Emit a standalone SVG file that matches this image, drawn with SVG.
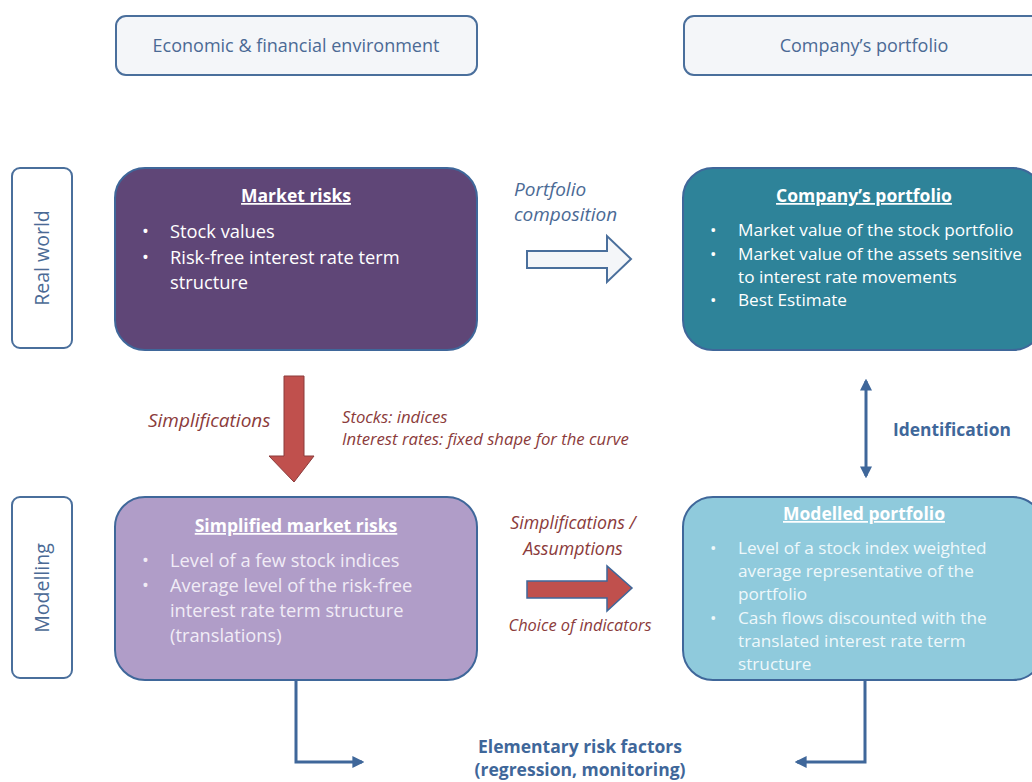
<svg xmlns="http://www.w3.org/2000/svg" width="1032" height="782" viewBox="0 0 1032 782">
<defs>
<style>
.hdr{fill:#f4f6f9;stroke:#4a6f9c;stroke-width:2}
.side{fill:#ffffff;stroke:#4a6f9c;stroke-width:2}
.box{stroke:#3f679a;stroke-width:2}
.t{font-family:"Open Sans","Liberation Sans",sans-serif}
.hdrt{font-size:18px;fill:#4b6a95;text-anchor:middle}
.sidet{font-size:19.5px;fill:#4b6a95;text-anchor:middle}
.title{font-size:17.5px;font-weight:bold;text-decoration:underline;text-anchor:middle}
.bodyL{font-size:18.3px}
.bodyR{font-size:17.2px}
.red{fill:#8b3b3b;font-style:italic}
.blu{fill:#3f679a;font-weight:bold}
.conn{fill:none;stroke:#3f679a;stroke-width:3}
</style>
<marker id="ah" viewBox="0 0 10 10" refX="8" refY="5" markerWidth="4" markerHeight="4" orient="auto-start-reverse">
<path d="M0,0 L10,5 L0,10 z" fill="#3f679a"/>
</marker>
</defs>
<rect width="1032" height="782" fill="#ffffff"/>

<g id="hdr-econ">
<rect class="hdr" x="116" y="16" width="361" height="59" rx="10"/>
<text class="t hdrt" x="296" y="52">Economic &amp; financial environment</text>
</g>
<g id="hdr-company">
<rect class="hdr" x="684" y="16" width="360" height="59" rx="10"/>
<text class="t hdrt" x="864" y="52">Company’s portfolio</text>
</g>

<g id="side-real">
<rect class="side" x="12" y="168" width="60" height="180" rx="8"/>
<text class="t sidet" transform="translate(49,258) rotate(-90)">Real world</text>
</g>
<g id="side-model">
<rect class="side" x="12" y="497" width="60" height="181" rx="8"/>
<text class="t sidet" transform="translate(49,588) rotate(-90)">Modelling</text>
</g>

<g id="market-risks">
<rect class="box" x="115" y="168" width="362" height="182" rx="30" fill="#5f4677"/>
<text class="t title" x="296" y="202" fill="#ffffff">Market risks</text>
<g class="t bodyL" fill="#ffffff">
<text x="142" y="238">•</text><text x="170" y="238">Stock values</text>
<text x="142" y="264">•</text><text x="170" y="264">Risk-free interest rate term</text>
<text x="170" y="289">structure</text>
</g>
</g>

<g id="company-portfolio">
<rect class="box" x="683" y="168" width="360" height="182" rx="30" fill="#2e8399"/>
<text class="t title" x="864" y="202" fill="#ffffff">Company’s portfolio</text>
<g class="t bodyR" fill="#ffffff">
<text x="710" y="236">•</text><text x="738" y="236">Market value of the stock portfolio</text>
<text x="710" y="260">•</text><text x="738" y="260">Market value of the assets sensitive</text>
<text x="738" y="283">to interest rate movements</text>
<text x="710" y="306">•</text><text x="738" y="306">Best Estimate</text>
</g>
</g>

<g id="simplified-market-risks">
<rect class="box" x="115" y="497" width="362" height="183" rx="30" fill="#b09dc8"/>
<text class="t title" x="296" y="532" fill="#ffffff">Simplified market risks</text>
<g class="t bodyL" fill="#f1ecf6">
<text x="142" y="567">•</text><text x="170" y="567">Level of a few stock indices</text>
<text x="142" y="592">•</text><text x="170" y="592">Average level of the risk-free</text>
<text x="170" y="617">interest rate term structure</text>
<text x="170" y="642">(translations)</text>
</g>
</g>

<g id="modelled-portfolio">
<rect class="box" x="683" y="497" width="360" height="183" rx="30" fill="#8fcadc"/>
<text class="t title" x="864" y="520" fill="#ffffff">Modelled portfolio</text>
<g class="t bodyR" fill="#eef8fb">
<text x="710" y="554">•</text><text x="738" y="554">Level of a stock index weighted</text>
<text x="738" y="577">average representative of the</text>
<text x="738" y="600">portfolio</text>
<text x="710" y="624">•</text><text x="738" y="624">Cash flows discounted with the</text>
<text x="738" y="647">translated interest rate term</text>
<text x="738" y="670">structure</text>
</g>
</g>

<g id="connectors">
<path d="M527,251 L607,251 L607,236 L631,259 L607,282 L607,268 L527,268 Z" fill="#f4f6f9" stroke="#4a6f9c" stroke-width="2"/>
<path d="M284,376 L304,376 L304,456 L314,456 L294,482 L269,456 L284,456 Z" fill="#c0504d" stroke="#8b3b3b" stroke-width="1"/>
<path d="M527,581 L607,581 L607,566 L632,588 L607,611 L607,598 L527,598 Z" fill="#c0504d" stroke="#3f679a" stroke-width="1.5"/>
<line class="conn" x1="866" y1="381" x2="866" y2="476" marker-start="url(#ah)" marker-end="url(#ah)"/>
<path class="conn" d="M296,680 L296,762 L362,762" marker-end="url(#ah)"/>
<path class="conn" d="M865,680 L865,762 L797,762" marker-end="url(#ah)"/>
</g>

<g id="labels">
<text class="t red" x="514" y="196" font-size="19" style="fill:#4b6a95">Portfolio</text>
<text class="t red" x="514" y="221" font-size="19" style="fill:#4b6a95">composition</text>
<text class="t red" x="148" y="427" font-size="19">Simplifications</text>
<text class="t red" x="342" y="423" font-size="16.7">Stocks: indices</text>
<text class="t red" x="342" y="445" font-size="16.7">Interest rates: fixed shape for the curve</text>
<text class="t red" x="573" y="529" font-size="17.8" text-anchor="middle">Simplifications /</text>
<text class="t red" x="573" y="555" font-size="17.8" text-anchor="middle">Assumptions</text>
<text class="t red" x="580" y="631" font-size="16.4" text-anchor="middle">Choice of indicators</text>
<text class="t blu" x="893" y="436" font-size="17.4">Identification</text>
<text class="t blu" x="580" y="753" font-size="17.5" text-anchor="middle">Elementary risk factors</text>
<text class="t blu" x="580" y="776" font-size="17.5" text-anchor="middle">(regression, monitoring)</text>
</g>
</svg>
